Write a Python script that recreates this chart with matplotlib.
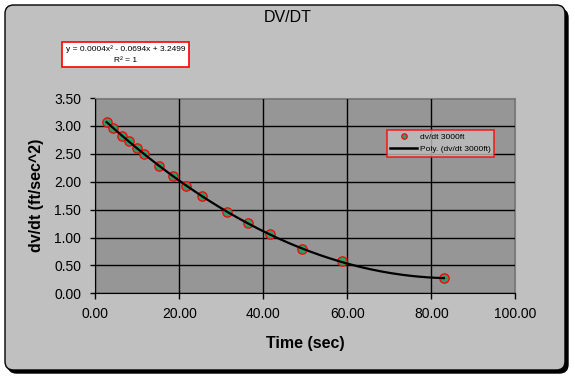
import numpy as np
import matplotlib
matplotlib.use('Agg')
import matplotlib.pyplot as plt
from matplotlib.patches import FancyBboxPatch, Rectangle
from matplotlib.lines import Line2D

plt.rcParams['font.family'] = ['Liberation Sans', 'DejaVu Sans']

# data
time_sec = [2.7, 4.1, 6.3, 8.0, 9.9, 11.6, 15.2, 18.4, 21.5, 25.4,
            31.3, 36.4, 41.6, 49.3, 58.7, 83.0]
dvdt = [3.07, 2.97, 2.82, 2.73, 2.61, 2.50, 2.28, 2.10, 1.93, 1.74,
        1.46, 1.26, 1.06, 0.79, 0.57, 0.27]
eq_text = 'y = 0.0004x² - 0.0694x + 3.2499'
r2_text = 'R² = 1'
x_ticks = [0, 20, 40, 60, 80, 100]
y_ticks = [0, 0.5, 1.0, 1.5, 2.0, 2.5, 3.0, 3.5]

W, H = 575, 381
fig = plt.figure(figsize=(W / 100, H / 100), dpi=100)
fig.patch.set_facecolor('white')

# chart area with shadow
shadow = FancyBboxPatch((8 / W, 8 / H), 560 / W, 364 / H,
                        boxstyle='round,pad=0,rounding_size=0.015',
                        transform=fig.transFigure, facecolor='black',
                        edgecolor='black', lw=1, mutation_aspect=W / H,
                        zorder=-20)
area = FancyBboxPatch((5 / W, 11 / H), 560 / W, 365 / H,
                      boxstyle='round,pad=0,rounding_size=0.015',
                      transform=fig.transFigure, facecolor='#c0c0c0',
                      edgecolor='black', lw=1, mutation_aspect=W / H,
                      zorder=-10)
fig.patches.extend([shadow, area])

ax = fig.add_axes([95.3 / W, (H - 293.3) / H, 420 / W, 195.3 / H])
ax.set_facecolor('#969696')

ax.scatter(time_sec, dvdt, s=45, facecolor='#339966', edgecolor='red',
           linewidth=0.9, zorder=3)

# polynomial trendline (order 2)
coef = np.polyfit(time_sec, dvdt, 2)
xs = np.linspace(min(time_sec), max(time_sec), 200)
ax.plot(xs, np.polyval(coef, xs), color='black', lw=1.6, zorder=4)

ax.set_xlim(0, 100)
ax.set_ylim(0, 3.5)
ax.set_xticks(x_ticks)
ax.set_yticks(y_ticks)
ax.set_xticklabels(['%.2f' % v for v in x_ticks])
ax.set_yticklabels(['%.2f' % v for v in y_ticks])
ax.grid(True, color='black', lw=1)
ax.set_axisbelow(True)
ax.tick_params(axis='x', direction='out', length=4, width=1, pad=6,
               labelsize=10, colors='black')
ax.tick_params(axis='y', direction='out', length=3.6, width=1, pad=6.5,
               labelsize=10, colors='black')
for s in ['left', 'bottom']:
    ax.spines[s].set_color('black')
for s in ['top', 'right']:
    ax.spines[s].set_color('#808080')

ax.set_xlabel('Time (sec)', fontsize=11.5, fontweight='bold', va='center')
ax.xaxis.set_label_coords(0.5, -0.255)
ax.set_ylabel('dv/dt (ft/sec^2)', fontsize=11.5, fontweight='bold', va='center')
ax.yaxis.set_label_coords(-0.141, 0.5)

fig.text(288 / W, 1 - 18 / H, 'DV/DT', fontsize=11.5, ha='center', va='center')

# trendline equation box
fig.patches.append(Rectangle((62 / W, 1 - 67 / H), 127 / W, 25 / H,
                             transform=fig.transFigure, facecolor='white',
                             edgecolor='red', lw=1.2, zorder=2))
fig.text(125.5 / W, 1 - 49 / H, eq_text, fontsize=6, ha='center', va='center')
fig.text(125.5 / W, 1 - 60 / H, r2_text, fontsize=6, ha='center', va='center')

# legend
handles = [Line2D([], [], ls='none', marker='o', ms=4, mfc='#339966', mec='red', mew=0.8),
           Line2D([], [], color='black', lw=1.8)]
leg = fig.legend(handles, ['dv/dt 3000ft', 'Poly. (dv/dt 3000ft)'],
                 loc='upper left', bbox_to_anchor=(387 / W, 1 - 130 / H),
                 fontsize=6, frameon=True, fancybox=False, borderaxespad=0,
                 handlelength=3.2, handletextpad=0.3, labelspacing=0.5,
                 borderpad=0.4)
leg.get_frame().set_edgecolor('red')
leg.get_frame().set_facecolor('#c0c0c0')
leg.get_frame().set_linewidth(1.2)

fig.savefig('out.png', dpi=100)
